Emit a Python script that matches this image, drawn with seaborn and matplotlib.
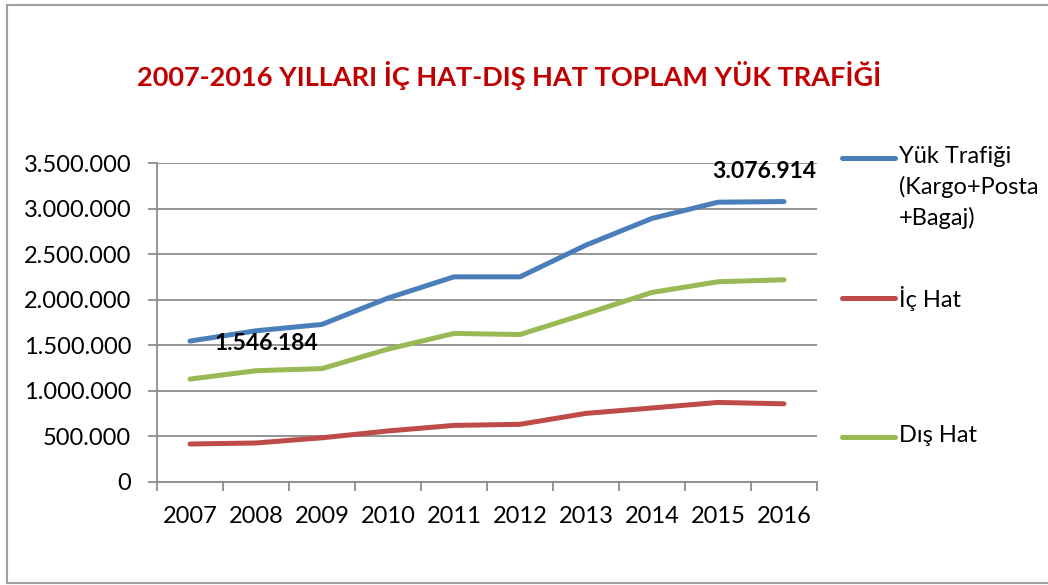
import matplotlib
matplotlib.use("Agg")
import matplotlib.pyplot as plt
import seaborn as sns
import pandas as pd
import numpy as np
from matplotlib.lines import Line2D
from matplotlib.ticker import FuncFormatter, FixedLocator

years = ["2007", "2008", "2009", "2010", "2011", "2012", "2013", "2014", "2015", "2016"]
yuk_trafigi = [1546184, 1659000, 1729000, 2018000, 2251000, 2251000, 2599000, 2892000, 3070000, 3076914]
ic_hat = [417000, 428000, 485000, 560000, 621000, 633000, 753000, 812000, 873000, 858000]
dis_hat = [1129000, 1221000, 1244000, 1458000, 1630000, 1618000, 1846000, 2080000, 2197000, 2219000]
series_names = ["Yük Trafiği\n(Kargo+Posta\n+Bagaj)", "İç Hat", "Dış Hat"]
colors = ["#4A7EBB", "#BE4B48", "#98B954"]
title = "2007-2016 YILLARI İÇ HAT-DIŞ HAT TOPLAM YÜK TRAFİĞİ"

df = pd.DataFrame({
    "year": years * 3,
    "value": yuk_trafigi + ic_hat + dis_hat,
    "series": [series_names[0]] * 10 + [series_names[1]] * 10 + [series_names[2]] * 10,
})

sns.set_theme(style="white")
plt.rcParams["font.family"] = ["Lato", "DejaVu Sans"]
plt.rcParams["text.color"] = "black"

fig = plt.figure(figsize=(10.48, 5.85), dpi=100)
ax = fig.add_axes([157 / 1048, 1 - 482 / 585, (817 - 157) / 1048, (482 - 163) / 585])

sns.lineplot(data=df, x="year", y="value", hue="series", palette=colors,
             linewidth=3.6, ax=ax, legend=False, sort=False)
for ln in ax.lines:
    ln.set_solid_capstyle("round")

ax.set_ylim(0, 3500000)
ax.set_xlim(-0.5, 9.5)
ax.set_yticks(np.arange(0, 3500001, 500000))
ax.yaxis.set_major_formatter(FuncFormatter(lambda v, p: f"{int(v):,}".replace(",", ".")))
ax.yaxis.grid(True, color="#8C8C8C", linewidth=1.3)
ax.set_axisbelow(True)

ax.xaxis.set_major_locator(FixedLocator(np.arange(-0.5, 10, 1)))
ax.xaxis.set_minor_locator(FixedLocator(np.arange(0, 10, 1)))
ax.set_xticklabels([""] * 11)
ax.set_xticklabels(years, minor=True)
ax.tick_params(axis="x", which="major", length=6.5, width=1.3, color="#8C8C8C", direction="out", bottom=True)
ax.tick_params(axis="x", which="minor", length=0, pad=17, labelsize=17, labelcolor="black")
ax.tick_params(axis="y", length=6.5, width=1.3, color="#8C8C8C", direction="out", left=True,
               labelsize=17, labelcolor="black", pad=12)

for side in ["top", "right"]:
    ax.spines[side].set_visible(False)
for side in ["left", "bottom"]:
    ax.spines[side].set_color("#8C8C8C")
    ax.spines[side].set_linewidth(1.3)
ax.set_xlabel("")
ax.set_ylabel("")

ax.annotate(f"{yuk_trafigi[0]:,}".replace(",", "."), xy=(0, yuk_trafigi[0]), xytext=(55, -1.5),
            textcoords="offset points", ha="center", va="center", fontsize=16.5,
            fontweight="bold", color="black")
ax.annotate(f"{yuk_trafigi[-1]:,}".replace(",", "."), xy=(9, yuk_trafigi[-1]), xytext=(-14, 22),
            textcoords="offset points", ha="center", va="center", fontsize=16.5,
            fontweight="bold", color="black")

fig.text(0.4857, 1 - 75 / 585, title, ha="center", va="center", fontsize=19.5,
         fontweight="bold", color="#C00000")

# legend
legend_y = [158, 298, 437]
for name, col, yy in zip(series_names, colors, legend_y):
    yf = 1 - yy / 585
    fig.add_artist(Line2D([842 / 1048, 895 / 1048], [yf, yf], color=col, linewidth=3.6,
                          solid_capstyle="round", transform=fig.transFigure))
    fig.text(899 / 1048, yf + 12 / 585, name, ha="left", va="top", fontsize=17,
             linespacing=1.5, color="black")

# border
bc = "#A0A0A0"
fig.add_artist(Line2D([7 / 1048, 7 / 1048], [1 - 5 / 585, 1 - 583 / 585], color=bc, linewidth=1.5, transform=fig.transFigure))
fig.add_artist(Line2D([7 / 1048, 1], [1 - 5 / 585, 1 - 5 / 585], color=bc, linewidth=1.5, transform=fig.transFigure))
fig.add_artist(Line2D([7 / 1048, 1], [1 - 583 / 585, 1 - 583 / 585], color=bc, linewidth=1.5, transform=fig.transFigure))

fig.savefig("out.png", dpi=100)
